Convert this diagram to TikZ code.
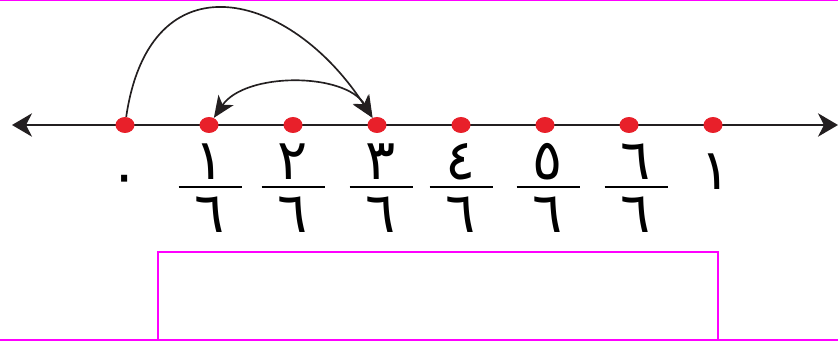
\documentclass[tikz,border=0pt]{standalone}
\usepackage{fontspec}
\usepackage{tikz}
\usetikzlibrary{arrows.meta,shapes.geometric}
\newfontfamily\arabicfont[Script=Arabic]{DejaVu Sans}
\definecolor{lineink}{HTML}{231F20}
\definecolor{dotred}{HTML}{E8202A}
\definecolor{framepink}{HTML}{FF00FF}

\begin{document}
\begin{tikzpicture}[
  x=0.03cm, y=-0.03cm,
  pt/.style={ellipse, fill=dotred, minimum width=5.7mm, minimum height=4.8mm, inner sep=0pt},
  digit/.style={font=\arabicfont\fontsize{48}{48}\selectfont, inner sep=0pt, text=black,
                text height=30pt, text depth=0pt},
  bar/.style={line width=0.06cm, black},
  axis/.style={line width=0.06cm, lineink, {Stealth[length=6mm, width=7mm, inset=1.8mm]}-{Stealth[length=6mm, width=7mm, inset=1.8mm]}},
  hop/.style={line width=0.05cm, lineink, -{Stealth[length=6.5mm, width=5.5mm, inset=1.8mm]}},
  hop2/.style={line width=0.05cm, lineink, {Stealth[length=6.5mm, width=5.5mm, inset=1.8mm]}-{Stealth[length=6.5mm, width=5.5mm, inset=1.8mm]}},
  frame/.style={line width=0.06cm, framepink},
  ]
  \useasboundingbox (0,0) rectangle (838,342);

  % magenta frame
  \draw[frame, line width=0.04cm] (0,0.7) -- (838,0.7);
  \draw[frame] (0,340) -- (838,340);
  \draw[frame] (158,340) -- (158,252) -- (718,252) -- (718,340);

  % number line
  \coordinate (lend) at (12,125);
  \coordinate (rend) at (838,125);
  \draw[axis] (lend) -- (rend);
  \foreach \i/\x in {0/125,1/209,2/293,3/377,4/461,5/545,6/629,7/713}
    \node[pt] (p\i) at (\x,125) {};

  % labels
  \node[digit, text height=8pt] (zero) at (125,190) {٠};
  \foreach \i/\x/\d in {1/210/١,2/293/٢,3/381/٣,4/461/٤,5/548/٥,6/636/٦}{
    \node[digit] (n\i) at (\x,162) {\d};
    \node[digit] (d\i) at (\x,215) {٦};
    \draw[bar] (\x-31.5,187) -- (\x+31.5,187);
  }
  \node[digit] (one) at (716,172) {١};

  % jumps
  \draw[hop] (p0) .. controls (150,-45) and (290,-10) .. (p3);
  \draw[hop2] (p3) .. controls (345,72) and (245,72) .. (p1);
\end{tikzpicture}
\end{document}
